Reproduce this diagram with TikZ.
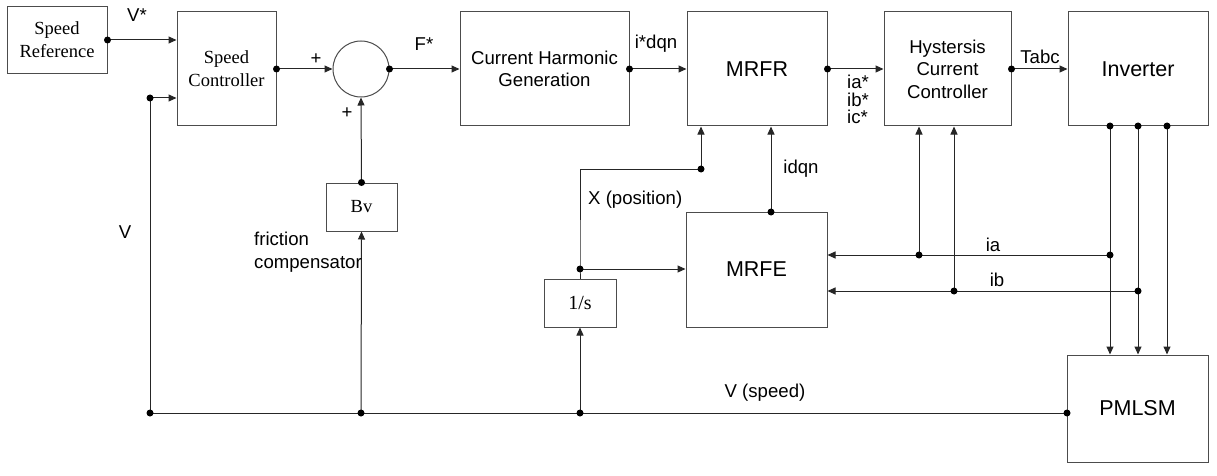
\documentclass[tikz,border=0pt]{standalone}
\usepackage{fontspec}
\setmainfont{Liberation Sans}
\newfontfamily\serifft{Liberation Serif}
\usetikzlibrary{arrows.meta}
\tikzset{
 blk/.style={draw=black!70, line width=1pt, inner sep=0pt, align=center, font=\fontsize{18.6}{22.4}\selectfont},
 sblk/.style={blk, font=\serifft\fontsize{18.5}{23}\selectfont},
 bigblk/.style={blk, font=\fontsize{21.5}{25}\selectfont},
 lbl/.style={inner sep=0pt, font=\fontsize{18.6}{22.4}\selectfont},
 wire/.style={draw=black!85, line width=1pt},
 arr/.style={wire, -{Triangle[length=8pt,width=7pt]}},
}
\begin{document}
\begin{tikzpicture}[x=1pt,y=-1pt]
\useasboundingbox (0,0) rectangle (1217,476);
% blocks
\node[sblk, minimum width=100pt, minimum height=67pt] (sr) at (57,40) {Speed\\Reference};
\node[sblk, minimum width=99pt, minimum height=114pt] (sc) at (226.5,69) {Speed\\Controller};
\node[draw=black!70, line width=1pt, circle, minimum size=56pt, inner sep=0pt] (sum) at (361,69) {};
\node[blk, minimum width=169pt, minimum height=114pt] (chg) at (544.5,69) {Current Harmonic\\Generation};
\node[bigblk, minimum width=140pt, minimum height=114pt] (mrfr) at (757,69) {MRFR};
\node[blk, minimum width=127pt, minimum height=114pt] (hcc) at (947.5,69) {Hystersis\\Current\\Controller};
\node[bigblk, minimum width=140pt, minimum height=114pt] (inv) at (1138,69) {Inverter};
\node[sblk, minimum width=71pt, minimum height=48pt] (bv) at (361.5,207) {Bv};
\node[sblk, minimum width=72pt, minimum height=48pt, font=\serifft\fontsize{20}{24}\selectfont] (int) at (580,303) {1/s};
\node[bigblk, minimum width=141pt, minimum height=115pt] (mrfe) at (756.5,269.5) {MRFE};
\node[bigblk, minimum width=141pt, minimum height=107pt] (pm) at (1137.5,408.5) {PMLSM};
% coordinates
\coordinate (vt) at (150,98);
\coordinate (vb) at (150,413);
\coordinate (bb) at (361,413);
\coordinate (ib) at (580,413);
\coordinate (pmw) at (1067,413);
\coordinate (xp) at (580,269);
\coordinate (xc) at (580,169);
\coordinate (xd) at (701,169);
\coordinate (id) at (771,212);
\coordinate (pa) at (1110,126);
\coordinate (pb) at (1138,126);
\coordinate (pc) at (1167,126);
\coordinate (ia1) at (1110,255);
\coordinate (ia2) at (919,255);
\coordinate (ib1) at (1138,291);
\coordinate (ib2) at (954,291);
% connectors
\draw[arr] (sr.east) -- (sr.east -| sc.west);
\draw[arr] (sc.east) -- (sum.west);
\draw[arr] (vt) -- (vt -| sc.west);
\draw[arr] (sum.east) -- (chg.west);
\draw[arr] (chg.east) -- (mrfr.west);
\draw[arr] (mrfr.east) -- (hcc.west);
\draw[arr] (hcc.east) -- (inv.west);
\draw[arr] (bv.north) -- (sum.south);
\draw[arr] (bb) -- (bv.south);
\draw[wire] (vt) -- (vb) -- (pmw);
\draw[arr] (ib) -- (int.south);
\draw[wire] (int.north) -- (xp) -- (xc) -- (xd);
\draw[arr] (xd) -- (xd |- mrfr.south);
\draw[arr] (xp) -- (xp -| mrfe.west);
\draw[arr] (id) -- (id |- mrfr.south);
\draw[arr] (pa) -- (pa |- pm.north);
\draw[arr] (pb) -- (pb |- pm.north);
\draw[arr] (pc) -- (pc |- pm.north);
\draw[arr] (ia1) -- (ia1 -| mrfe.east);
\draw[arr] (ib1) -- (ib1 -| mrfe.east);
\draw[arr] (ia2) -- (ia2 |- hcc.south);
\draw[arr] (ib2) -- (ib2 |- hcc.south);
% dots
\foreach \p in {sr.east, sc.east, vt, sum.east, chg.east, mrfr.east, hcc.east, bv.north, vb, bb, ib, pmw, xp, xd, id, pa, pb, pc, ia1, ia2, ib1, ib2}
  \fill[black] (\p) circle (3.5pt);
% labels
\node[lbl] (lvs) at (137,15) {V*};
\node[lbl] (lp1) at (316,59) {+};
\node[lbl] (lp2) at (347,113) {+};
\node[lbl] (lf) at (424,44) {F*};
\node[lbl] (lid) at (656,44) {i*dqn};
\node[lbl, anchor=west] (lia) at (847,82) {ia*};
\node[lbl, anchor=west] (lib) at (847,100) {ib*};
\node[lbl, anchor=west] (lic) at (847,117) {ic*};
\node[lbl] (lt) at (1040,57) {Tabc};
\node[lbl] (lv) at (125,232) {V};
\node[lbl, anchor=west, align=left] (lfc) at (254,252) {friction\\compensator};
\node[lbl, anchor=west] (lx) at (588,200) {X (position)};
\node[lbl] (lidq) at (801,169) {idqn};
\node[lbl] (lia2) at (993,245) {ia};
\node[lbl] (lib2) at (997,280) {ib};
\node[lbl] (lvsp) at (765,393) {V (speed)};
\end{tikzpicture}
\end{document}
